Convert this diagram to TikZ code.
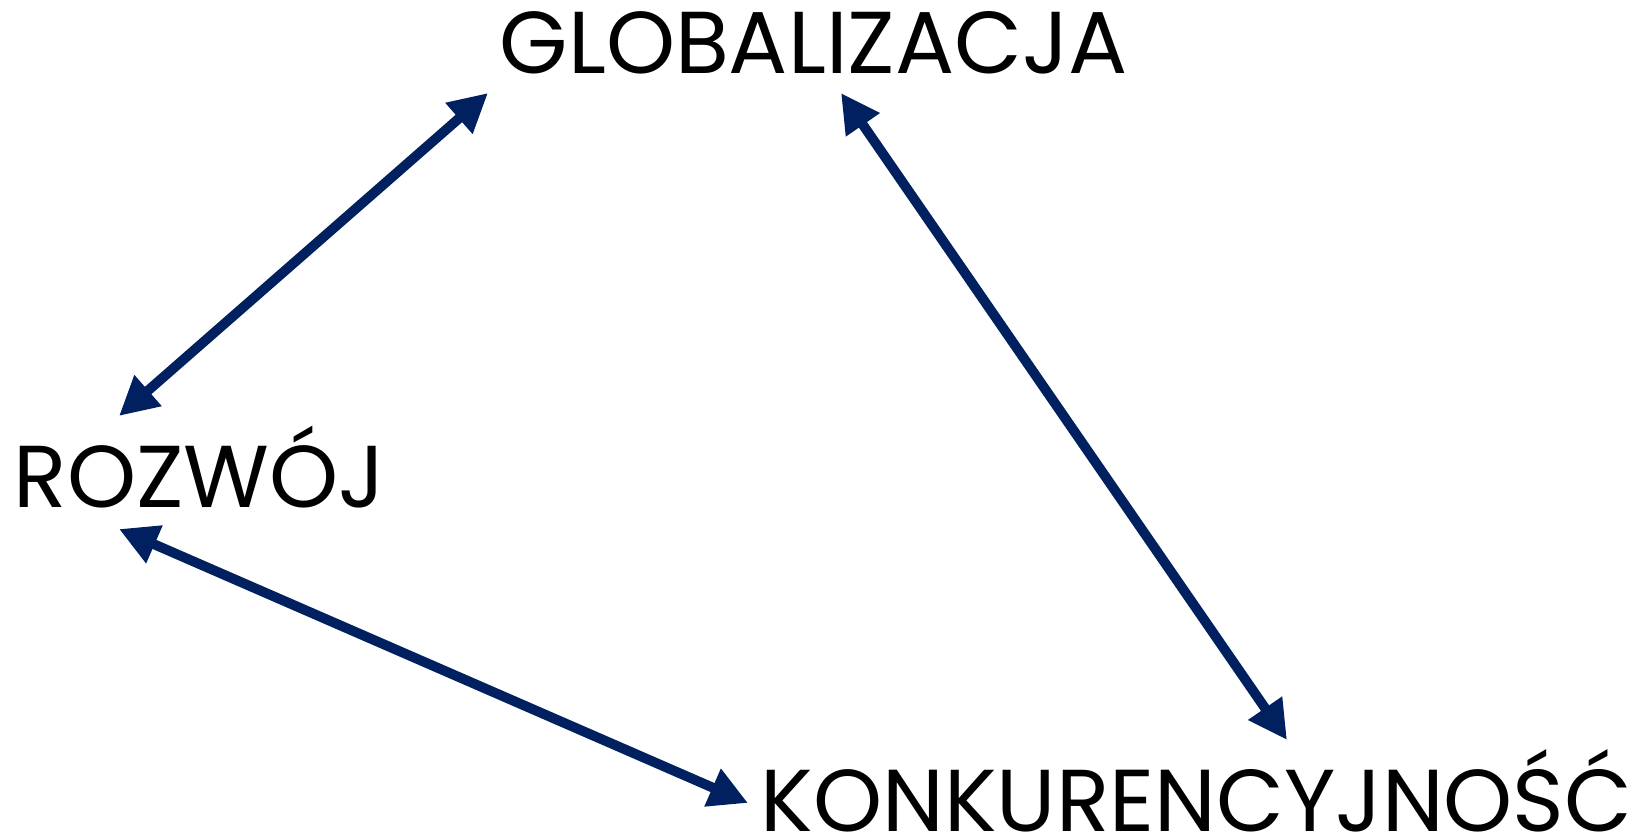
\documentclass[tikz,border=0pt]{standalone}
\usepackage{fontspec}
\setmainfont{Poppins}
\usepackage{xcolor}
\usetikzlibrary{arrows.meta}
\definecolor{qnavy}{RGB}{0,32,96}

\begin{document}
\begin{tikzpicture}[
 word/.style={inner sep=0, text depth=0pt, anchor=base west, font=\fontsize{25}{30}\selectfont},
 link/.style={color=qnavy, line width=2.8pt, {Triangle[length=11pt,width=11pt]}-{Triangle[length=11pt,width=11pt]}}
]
\useasboundingbox (0,0) rectangle (16.42,8.40);

%words:
 \node[word] (glob) at (4.99,7.66) {GLOBALIZACJA};
 \node[word] (rozwoj) at (0.13,3.32) {ROZWÓJ};
 \node[word] (konk) at (7.60,0.08) {KONKURENCYJNOŚĆ};

%arrow ends
 \coordinate (rozwoj-up) at (1.19,4.24);
 \coordinate (rozwoj-down) at (1.19,3.11);
 \coordinate (glob-left) at (4.88,7.47);
 \coordinate (glob-right) at (8.41,7.47);
 \coordinate (konk-up) at (12.87,1.00);
 \coordinate (konk-left) at (7.48,0.37);

%arrows:
 \draw[link] (rozwoj-up) -- (glob-left);
 \draw[link] (glob-right) -- (konk-up);
 \draw[link] (rozwoj-down) -- (konk-left);
\end{tikzpicture}
\end{document}
